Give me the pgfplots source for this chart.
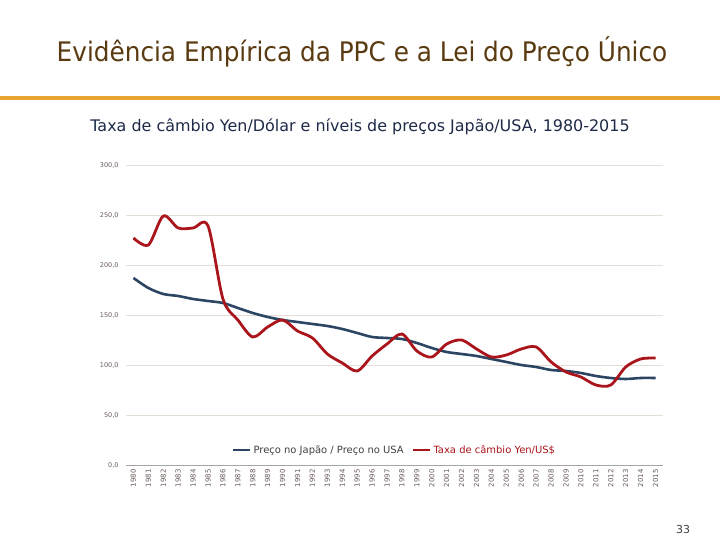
\documentclass[border=0pt]{standalone}
\usepackage{fontspec}
\setmainfont{DejaVu Sans}
\newfontfamily\titlefont{DejaVu Sans}[FakeStretch=0.92]
\newfontfamily\tickfont{DejaVu Sans}
\usepackage{pgfplots}
\pgfplotsset{compat=1.18}
\definecolor{titlebrown}{HTML}{5A3A10}
\definecolor{subnavy}{HTML}{1E2A48}
\definecolor{barorange}{HTML}{E8A530}
\definecolor{seriesblue}{HTML}{2C4563}
\definecolor{seriesred}{HTML}{AA141B}
\definecolor{gridc}{HTML}{E4DED6}
\definecolor{tickc}{HTML}{6A5A5A}
\begin{document}
\begin{tikzpicture}
\begin{scope}[x=1bp,y=1bp]
\path[use as bounding box, fill=white] (0,0) rectangle (720,540);
\node[text=titlebrown, font=\titlefont\fontsize{27}{30}\selectfont] at (362,488) {Evidência Empírica da PPC e a Lei do Preço Único};
\fill[barorange] (0,440) rectangle (720,444);
\node[text=subnavy, font=\fontsize{16}{19}\selectfont] at (360,413) {Taxa de câmbio Yen/Dólar e níveis de preços Japão/USA, 1980-2015};
\node[text=black!75, font=\fontsize{11}{13}\selectfont] at (683,10) {33};
\coordinate (axpos) at (126,75);
\end{scope}
\begin{axis}[
  at={(axpos)}, anchor=south west,
  width=537bp, height=300bp, scale only axis,
  xmin=1979.5, xmax=2015.5, ymin=0, ymax=300,
  xtick={1980,...,2015},
  xticklabel style={rotate=90, anchor=east, font=\tickfont\fontsize{7}{8}\selectfont, text=tickc, yshift=0bp, xshift=-1bp},
  ytick={0,50,...,300},
  yticklabel style={font=\tickfont\fontsize{6.5}{7}\selectfont, text=tickc, xshift=-4bp},
  /pgf/number format/assume math mode=true,
  y tick label style={/pgf/number format/.cd, fixed, fixed zerofill, precision=1, use comma},
  xticklabel={\pgfmathprintnumber[1000 sep={}]{\tick}},
  major tick length=0pt,
  ymajorgrids, grid style={gridc, line width=0.6pt},
  axis x line*=bottom,
  axis y line*=left,
  y axis line style={draw=none},
  x axis line style={draw=gray!70, line width=0.6pt, -},
  legend style={at={(0.5,0.05)}, anchor=center, draw=none, fill=none, font=\fontsize{10}{12}\selectfont, legend columns=2, /tikz/every even column/.append style={column sep=6bp}},
  clip=false,
]
\addplot[seriesblue, line width=2.6pt, smooth, tension=0.5] coordinates {
(1980,187)(1981,177)(1982,171)(1983,169)(1984,166)(1985,164)(1986,162)(1987,157)(1988,152)(1989,148)
(1990,145)(1991,143)(1992,141)(1993,139)(1994,136)(1995,132)(1996,128)(1997,127)(1998,126)(1999,122)
(2000,117)(2001,113)(2002,111)(2003,109)(2004,106)(2005,103)(2006,100)(2007,98)(2008,95)(2009,94)
(2010,92)(2011,89)(2012,87)(2013,86)(2014,87)(2015,87)};
\addlegendentry{\textcolor{black!75}{Preço no Japão / Preço no USA}}
\addplot[seriesred, line width=2.8pt, smooth, tension=0.5] coordinates {
(1980,227)(1981,220)(1982,249)(1983,237)(1984,237)(1985,239)(1986,166)(1987,145)(1988,128)(1989,138)
(1990,145)(1991,134)(1992,127)(1993,111)(1994,102)(1995,94)(1996,109)(1997,121)(1998,131)(1999,114)
(2000,108)(2001,121)(2002,125)(2003,116)(2004,108)(2005,110)(2006,116)(2007,118)(2008,103)(2009,93)
(2010,88)(2011,80)(2012,80)(2013,98)(2014,106)(2015,107)};
\addlegendentry{\textcolor{seriesred}{Taxa de câmbio Yen/US\$}}
\end{axis}
\end{tikzpicture}
\end{document}
